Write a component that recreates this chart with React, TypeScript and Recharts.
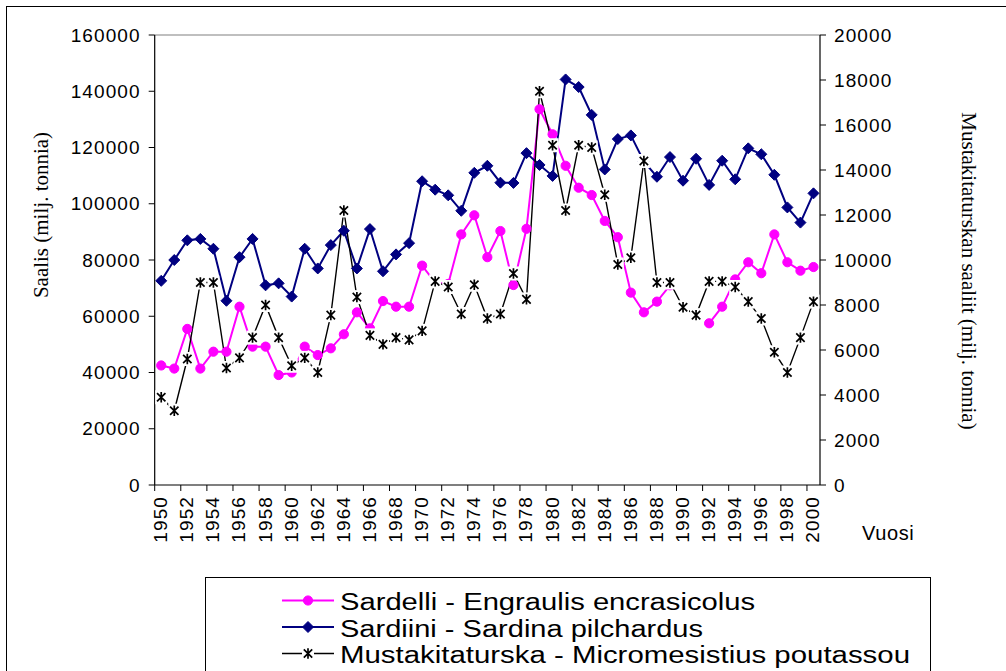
import React from "react";
import { LineChart, Line, XAxis, YAxis, ReferenceLine } from "recharts";

const years = [
  1950, 1951, 1952, 1953, 1954, 1955, 1956, 1957, 1958, 1959,
  1960, 1961, 1962, 1963, 1964, 1965, 1966, 1967, 1968, 1969,
  1970, 1971, 1972, 1973, 1974, 1975, 1976, 1977, 1978, 1979,
  1980, 1981, 1982, 1983, 1984, 1985, 1986, 1987, 1988, 1989,
  1990, 1991, 1992, 1993, 1994, 1995, 1996, 1997, 1998, 1999,
  2000,
];

// Sardelli - Engraulis encrasicolus (left axis)
const sardelli = [
  42500, 41400, 55500, 41400, 47400, 47400, 63400, 49200, 49200, 39100,
  40000, 49200, 46200, 48600, 53600, 61400, 55700, 65400, 63400, 63400,
  78000, 72000, 71500, 89100, 95900, 81000, 90300, 71100, 91100, 133600,
  124700, 113500, 105700, 103100, 93900, 88100, 68400, 61400, 65200, 71000,
  null, null, 57500, 63400, 73100, 79200, 75300, 89100, 79200, 76200,
  77500,
];

// Sardiini - Sardina pilchardus (left axis)
const sardiini = [
  72600, 80000, 87000, 87500, 84000, 65500, 81000, 87500, 71000, 71700,
  67000, 84000, 77000, 85300, 90400, 77000, 91000, 76000, 82000, 86000,
  108000, 105000, 103000, 97500, 111000, 113500, 107500, 107400, 118000, 113800,
  109900, 144200, 141500, 131600, 112200, 123000, 124300, 115000, 109600, 116600,
  108200, 116000, 106700, 115300, 108700, 119700, 117600, 110300, 98700, 93300,
  103700,
];

// Mustakitaturska - Micromesistius poutassou (right axis)
const mustakitaturska = [
  3900, 3300, 5600, 9000, 9000, 5200, 5650, 6550, 8000, 6550,
  5300, 5650, 5000, 7550, 12200, 8350, 6650, 6250, 6550, 6450,
  6850, 9050, 8800, 7600, 8900, 7400, 7600, 9400, 8250, 17500,
  15100, 12200, 15100, 15000, 12900, 9800, 10100, 14400, 9000, 9000,
  7900, 7550, 9050, 9050, 8800, 8150, 7400, 5900, 5000, 6550,
  8150,
];

const leftTicks = [0, 20000, 40000, 60000, 80000, 100000, 120000, 140000, 160000];
const rightTicks = [0, 2000, 4000, 6000, 8000, 10000, 12000, 14000, 16000, 18000, 20000];

const data = years.map((year, i) => ({
  year,
  sardelli: sardelli[i],
  sardiini: sardiini[i],
  musta: mustakitaturska[i],
}));

const MAGENTA = "#ff00ff";
const NAVY = "#000080";
const SANS = "'Liberation Sans', Arial, sans-serif";
const SERIF = "'Liberation Serif', 'Times New Roman', serif";

const CHART_W = 1006;
const CHART_H = 560;
const PLOT_LEFT = 154.7;
const PLOT_RIGHT = 820;
const BAND = (PLOT_RIGHT - PLOT_LEFT) / years.length;

const tickFont = { fontFamily: SANS, fontSize: 19, fill: "#000", letterSpacing: 1.1 };

function Star({ cx, cy }: { cx?: number; cy?: number }) {
  if (cx == null || cy == null || Number.isNaN(cy)) return <g />;
  const s = 4.2;
  return (
    <g>
      <rect x={cx - 6} y={cy - 7} width={12} height={14} fill="#fff" />
      <path
        d={`M${cx - s},${cy - s}L${cx + s},${cy + s}M${cx - s},${cy + s}L${cx + s},${cy - s}M${cx},${cy - s - 1}L${cx},${cy + s + 1}`}
        stroke="#000"
        strokeWidth={1.7}
        fill="none"
      />
    </g>
  );
}

function Diamond({ cx, cy }: { cx?: number; cy?: number }) {
  if (cx == null || cy == null || Number.isNaN(cy)) return <g />;
  const r = 5.5;
  return (
    <path
      d={`M${cx},${cy - r}L${cx + r},${cy}L${cx},${cy + r}L${cx - r},${cy}Z`}
      fill={NAVY}
      stroke={NAVY}
      strokeWidth={1}
    />
  );
}

function Circle({ cx, cy }: { cx?: number; cy?: number }) {
  if (cx == null || cy == null || Number.isNaN(cy)) return <g />;
  return <circle cx={cx} cy={cy} r={4.6} fill={MAGENTA} stroke={MAGENTA} />;
}

function YearTick(props: any) {
  const { x, y, payload } = props;
  const axisY = y - 8;
  return (
    <g>
      <line x1={x - BAND / 2} x2={x - BAND / 2} y1={axisY} y2={axisY + 6} stroke="#000" />
      <text
        {...tickFont}
        transform={`translate(${x + 6},${axisY + 11}) rotate(-90)`}
        textAnchor="end"
      >
        {payload.value}
      </text>
    </g>
  );
}

const legendRows = [
  { label: "Sardelli - Engraulis encrasicolus", width: 415, color: MAGENTA, mark: "circle" },
  { label: "Sardiini - Sardina pilchardus", width: 363, color: NAVY, mark: "diamond" },
  { label: "Mustakitaturska - Micromesistius poutassou", width: 570, color: "#000", mark: "star" },
];

export default function App() {
  return (
    <div style={{ position: "absolute", left: 0, top: 0, width: 1006, height: 671, overflow: "hidden", background: "#fff" }}>
      <div
        style={{
          position: "absolute",
          left: 6,
          top: 6,
          width: 1020,
          height: 700,
          border: "1px solid #000",
        }}
      />
      <div style={{ position: "absolute", left: 0, top: 0 }}>
        <LineChart
          width={CHART_W}
          height={CHART_H}
          data={data}
          margin={{ top: 35, right: 0, left: 0, bottom: 5 }}
        >
          <XAxis
            dataKey="year"
            interval={1}
            height={70}
            padding={{ left: BAND / 2, right: BAND / 2 }}
            axisLine={{ stroke: "#000", strokeWidth: 1.2 }}
            tickLine={false}
            tick={<YearTick />}
          />
          <YAxis
            yAxisId="left"
            orientation="left"
            width={PLOT_LEFT}
            domain={[0, 160000]}
            ticks={leftTicks}
            interval={0}
            axisLine={{ stroke: "#000", strokeWidth: 1.2 }}
            tickLine={{ stroke: "#000" }}
            tickSize={6}
            tickMargin={8}
            tick={tickFont}
          />
          <YAxis
            yAxisId="right"
            orientation="right"
            width={CHART_W - PLOT_RIGHT}
            domain={[0, 20000]}
            ticks={rightTicks}
            interval={0}
            axisLine={{ stroke: "#000", strokeWidth: 1.2 }}
            tickLine={{ stroke: "#000" }}
            tickSize={6}
            tickMargin={8}
            tick={{ ...tickFont, textAnchor: "start" }}
          />
          <ReferenceLine yAxisId="left" y={160000} stroke="#808080" strokeWidth={1.2} />
          <Line
            yAxisId="left"
            dataKey="sardelli"
            stroke={MAGENTA}
            strokeWidth={2}
            dot={(p: any) => <Circle key={`c${p.index}`} cx={p.cx} cy={p.cy} />}
            activeDot={false}
            connectNulls={false}
            isAnimationActive={false}
          />
          <Line
            yAxisId="left"
            dataKey="sardiini"
            stroke={NAVY}
            strokeWidth={2}
            dot={(p: any) => <Diamond key={`d${p.index}`} cx={p.cx} cy={p.cy} />}
            activeDot={false}
            isAnimationActive={false}
          />
          <Line
            yAxisId="right"
            dataKey="musta"
            stroke="#000"
            strokeWidth={1.4}
            dot={(p: any) => <Star key={`s${p.index}`} cx={p.cx} cy={p.cy} />}
            activeDot={false}
            isAnimationActive={false}
          />
        </LineChart>
      </div>

      <div
        style={{
          position: "absolute",
          left: 41,
          top: 215,
          transform: "translate(-50%, -50%) rotate(-90deg)",
          whiteSpace: "nowrap",
          fontFamily: SERIF,
          fontSize: 21,
        }}
      >
        Saalis (milj. tonnia)
      </div>
      <div
        style={{
          position: "absolute",
          left: 968,
          top: 271,
          transform: "translate(-50%, -50%) rotate(90deg)",
          whiteSpace: "nowrap",
          fontFamily: SERIF,
          fontSize: 21,
        }}
      >
        Mustakitaturskan saaliit (milj. tonnia)
      </div>
      <div
        style={{
          position: "absolute",
          left: 862,
          top: 522,
          fontFamily: SANS,
          fontSize: 20,
          letterSpacing: 0.6,
        }}
      >
        Vuosi
      </div>

      <div
        style={{
          position: "absolute",
          left: 205,
          top: 577,
          width: 726,
          height: 120,
          border: "1px solid #000",
          boxSizing: "border-box",
        }}
      >
        <svg width={726} height={100} style={{ position: "absolute", left: 0, top: 0 }}>
          {legendRows.map((row, i) => {
            const cy = 22.5 + i * 26.5;
            return (
              <g key={row.label}>
                <line
                  x1={76}
                  x2={128}
                  y1={cy}
                  y2={cy}
                  stroke={row.color}
                  strokeWidth={row.mark === "star" ? 1.4 : 2}
                />
                {row.mark === "circle" && <Circle cx={102} cy={cy} />}
                {row.mark === "diamond" && <Diamond cx={102} cy={cy} />}
                {row.mark === "star" && <Star cx={102} cy={cy} />}
                <text
                  x={134}
                  y={cy + 9.5}
                  fontFamily={SANS}
                  fontSize={23}
                  fill="#000"
                  textLength={row.width}
                  lengthAdjust="spacingAndGlyphs"
                >
                  {row.label}
                </text>
              </g>
            );
          })}
        </svg>
      </div>
    </div>
  );
}
